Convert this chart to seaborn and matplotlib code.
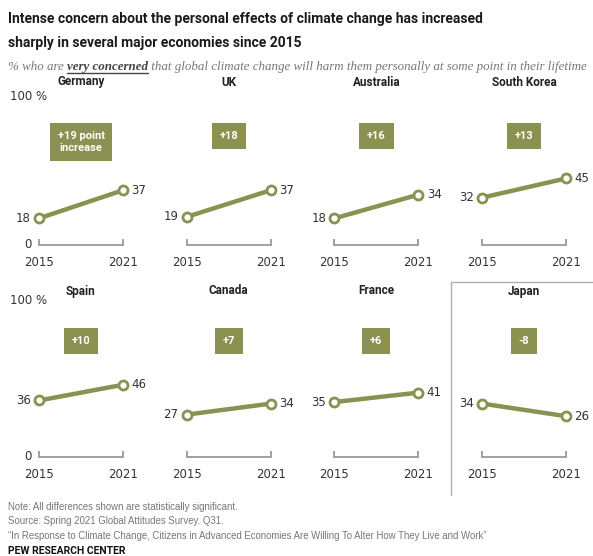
import matplotlib
matplotlib.use("Agg")
import matplotlib.pyplot as plt
import seaborn as sns
import pandas as pd
from matplotlib.lines import Line2D

# ---------------- data ----------------
countries = ["Germany", "UK", "Australia", "South Korea",
             "Spain", "Canada", "France", "Japan"]
values_2015 = [18, 19, 18, 32, 36, 27, 35, 34]
values_2021 = [37, 37, 34, 45, 46, 34, 41, 26]
change_labels = ["+19 point\nincrease", "+18", "+16", "+13",
                 "+10", "+7", "+6", "-8"]
years = [2015, 2021]

title_lines = ["Intense concern about the personal effects of climate change has increased",
               "sharply in several major economies since 2015"]
sub_parts = ["% who are ", "very concerned",
             " that global climate change will harm them personally at some point in their lifetime"]
notes = ["Note: All differences shown are statistically significant.",
         "Source: Spring 2021 Global Attitudes Survey. Q31.",
         "\u201cIn Response to Climate Change, Citizens in Advanced Economies Are Willing To Alter How They Live and Work\u201d"]
brand = "PEW RESEARCH CENTER"

# ---------------- style ----------------
sns.set_style("white")
plt.rcParams["font.family"] = ["DejaVu Sans"]
GREEN = "#8b9150"
GRAY = "#9a9a9a"
W, H = 593, 556

fig = plt.figure(figsize=(W / 100, H / 100), dpi=100)
renderer = fig.canvas.get_renderer()


def fx(x):
    return x / W


def fy(y):
    return 1 - y / H


def fit(t, target):
    w = t.get_window_extent(renderer).width
    t.set_fontsize(t.get_fontsize() * target / w)


NARROW = ["Liberation Sans Narrow", "Roboto", "DejaVu Sans"]
t1 = fig.text(fx(8), fy(19), title_lines[0], fontsize=12, fontweight="bold",
              family=NARROW, va="center", ha="left", color="#1a1a1a")
fit(t1, 474)
t2 = fig.text(fx(8), fy(43), title_lines[1], fontsize=t1.get_fontsize(),
              fontweight="bold", family=NARROW, va="center", ha="left",
              color="#1a1a1a")

# subtitle pieces
SERIF = ["Liberation Serif", "DejaVu Serif"]
size = 9
pieces = []
x = 8
for i, s in enumerate(sub_parts):
    t = fig.text(fx(x), fy(67), s, fontsize=size, style="italic",
                 fontweight="bold" if i == 1 else "normal",
                 family=SERIF, color="#444444" if i == 1 else "#777777",
                 va="center", ha="left")
    bb = t.get_window_extent(renderer)
    pieces.append(t)
    x += bb.width
total = x - 8
scale = 582 / total
x = 8
for i, t in enumerate(pieces):
    t.set_fontsize(size * scale)
    t.set_x(fx(x))
    bb = t.get_window_extent(renderer)
    if i == 1:
        fig.add_artist(Line2D([fx(x), fx(x + bb.width)], [fy(73), fy(73)],
                              color="#444444", lw=1))
    x += bb.width

# ---------------- panels ----------------
rows = [(245, 97), (457, 300)]      # pixel y of 0 and 100
title_y = [82, 291]
for i, country in enumerate(countries):
    r, c = divmod(i, 4)
    xl = 39 + 147.7 * c
    xr = xl + 84
    y0, y100 = rows[r]
    ax = fig.add_axes([fx(xl), fy(y0), (xr - xl) / W, (y0 - y100) / H])
    df = pd.DataFrame({"year": years,
                       "value": [values_2015[i], values_2021[i]]})
    sns.lineplot(data=df, x="year", y="value", ax=ax, color=GREEN,
                 linewidth=3.2, marker="o", markersize=6.5,
                 markerfacecolor="white", markeredgecolor=GREEN,
                 markeredgewidth=2, clip_on=False, zorder=5)
    ax.set_xlim(2015, 2021)
    ax.set_ylim(0, 100)
    ax.set_xlabel("")
    ax.set_ylabel("")
    for sp in ["top", "left", "right"]:
        ax.spines[sp].set_visible(False)
    ax.spines["bottom"].set_color(GRAY)
    ax.spines["bottom"].set_linewidth(1.3)
    ax.set_xticks(years)
    ax.set_xticklabels([str(y) for y in years])
    ax.tick_params(axis="x", bottom=True, direction="in", length=4, width=1.3,
                   color=GRAY, pad=8, labelsize=8.5, labelcolor="#333333")
    ax.set_yticks([])
    ax.patch.set_alpha(0)

    ax.annotate(str(values_2015[i]), (2015, values_2015[i]),
                xytext=(-6, 0), textcoords="offset points",
                ha="right", va="center", fontsize=8.5, color="#333333")
    ax.annotate(str(values_2021[i]), (2021, values_2021[i]),
                xytext=(6, 0), textcoords="offset points",
                ha="left", va="center", fontsize=8.5, color="#333333")
    ax.text(2018, 77, change_labels[i], ha="center", va="top",
            fontsize=8, fontweight="bold", color="white", family=NARROW,
            linespacing=1.3,
            bbox=dict(boxstyle="square,pad=0.7", fc=GREEN, ec="none"))

    fig.text(fx((xl + xr) / 2), fy(title_y[r]), country, ha="center",
             va="center", fontsize=8.5, fontweight="bold", color="#222222",
             family=NARROW)

for (y0, y100) in rows:
    fig.text(fx(10), fy(y100), "100 %", ha="left", va="center",
             fontsize=8.5, color="#333333")
    fig.text(fx(32), fy(y0), "0", ha="right", va="center",
             fontsize=8.5, color="#333333")

# Japan highlight frame
fig.add_artist(Line2D([fx(451), fx(451), fx(600)], [fy(495), fy(282), fy(282)],
                      color="#b0b0b0", lw=1))

# ---------------- notes ----------------
NOTE_FONT = ["Liberation Sans", "DejaVu Sans"]
note_y = [507, 521, 536]
nts = []
for s, y in zip(notes, note_y):
    nts.append(fig.text(fx(8), fy(y), s, fontsize=7, color="#777777",
                        family=NOTE_FONT, va="center", ha="left"))
fit(nts[2], 478)
for t in nts[:2]:
    t.set_fontsize(nts[2].get_fontsize())
fig.text(fx(8), fy(551), brand, fontsize=7.5, fontweight="bold",
         family=NARROW, color="#111111", va="center", ha="left")

fig.savefig("out.png", dpi=100)
